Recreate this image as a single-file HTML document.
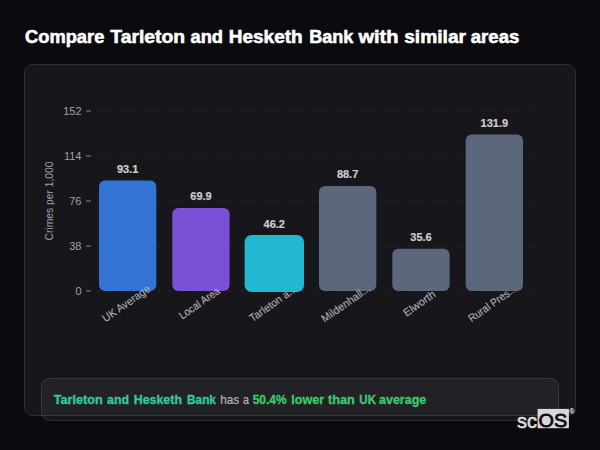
<!DOCTYPE html>
<html>
<head>
<meta charset="utf-8">
<style>
html,body{margin:0;padding:0;width:600px;height:450px;overflow:hidden;background:#0b0b0f;}
body{font-family:"Liberation Sans",sans-serif;position:relative;}
svg{position:absolute;left:0;top:0;}
</style>
</head>
<body>
<svg width="600" height="450" viewBox="0 0 600 450" font-family="Liberation Sans, sans-serif">
  <!-- title -->
  <g fill="#ffffff" stroke="#ffffff" stroke-width="0.55" font-size="18" font-weight="bold">
    <text y="42.5" x="25.0" textLength="79.32" lengthAdjust="spacingAndGlyphs">Compare</text>
    <text y="42.5" x="110.3" textLength="74.87" lengthAdjust="spacingAndGlyphs">Tarleton</text>
    <text y="42.5" x="190.5" textLength="32.5" lengthAdjust="spacingAndGlyphs">and</text>
    <text y="42.5" x="228.7" textLength="74.03" lengthAdjust="spacingAndGlyphs">Hesketh</text>
    <text y="42.5" x="309.2" textLength="44.22" lengthAdjust="spacingAndGlyphs">Bank</text>
    <text y="42.5" x="358.41" textLength="40.08" lengthAdjust="spacingAndGlyphs">with</text>
    <text y="42.5" x="404.2" textLength="61.84" lengthAdjust="spacingAndGlyphs">similar</text>
    <text y="42.5" x="470.8" textLength="48.55" lengthAdjust="spacingAndGlyphs">areas</text>
  </g>

  <!-- card -->
  <rect x="24.5" y="64.5" width="551" height="351" rx="8" ry="8" fill="#17171b" stroke="#2e2e33" stroke-width="1"/>

  <!-- grid lines -->
  <g stroke="#25252b" stroke-width="1" stroke-dasharray="4 8">
    <line x1="96" y1="111" x2="531.5" y2="111"/>
    <line x1="96" y1="156" x2="531.5" y2="156"/>
    <line x1="96" y1="201" x2="531.5" y2="201"/>
    <line x1="96" y1="246" x2="531.5" y2="246"/>
    <line x1="96" y1="291" x2="531.5" y2="291"/>
  </g>
  <!-- tick marks -->
  <g stroke="#85858c" stroke-width="1">
    <line x1="86" y1="111" x2="91" y2="111"/>
    <line x1="86" y1="156" x2="91" y2="156"/>
    <line x1="86" y1="201" x2="91" y2="201"/>
    <line x1="86" y1="246" x2="91" y2="246"/>
    <line x1="86" y1="291" x2="91" y2="291"/>
  </g>
  <!-- tick labels -->
  <g fill="#a1a1a8" font-size="11" text-anchor="end">
    <text x="81.5" y="115">152</text>
    <text x="81.5" y="160">114</text>
    <text x="81.5" y="205">76</text>
    <text x="81.5" y="250">38</text>
    <text x="81.5" y="295">0</text>
  </g>
  <!-- y axis title -->
  <text transform="translate(52.5,201) rotate(-90)" fill="#a1a1a8" font-size="11" text-anchor="middle" textLength="79" lengthAdjust="spacingAndGlyphs">Crimes per 1,000</text>

  <!-- bars -->
  <rect x="99" y="180.5" width="57.3" height="110.5" rx="6" fill="#3373d4"/>
  <rect x="172.3" y="208" width="57.3" height="83" rx="6" fill="#7a50d6"/>
  <rect x="244.6" y="235" width="59.4" height="57" rx="7" fill="#22b8d0"/>
  <rect x="319" y="186" width="57.3" height="105" rx="6" fill="#5b687b"/>
  <rect x="392.3" y="248.8" width="57.3" height="42.2" rx="6" fill="#5b687b"/>
  <rect x="465.7" y="134.5" width="57.3" height="156.5" rx="6" fill="#5b687b"/>

  <!-- value labels -->
  <g fill="#cdcdd2" stroke="#cdcdd2" stroke-width="0.2" font-size="11" font-weight="bold" text-anchor="middle">
    <text x="127.6" y="172.7">93.1</text>
    <text x="201" y="200.2">69.9</text>
    <text x="274.3" y="227.7">46.2</text>
    <text x="347.6" y="178.2">88.7</text>
    <text x="421" y="240.7">35.6</text>
    <text x="494.3" y="126.7">131.9</text>
  </g>

  <!-- x labels -->
  <g fill="#aeaeb4" stroke="#aeaeb4" stroke-width="0.12" font-size="11" text-anchor="middle">
    <text transform="translate(128.3,306.5) rotate(-35)" textLength="55.9" lengthAdjust="spacingAndGlyphs">UK Average</text>
    <text transform="translate(201.5,306.3) rotate(-35)" textLength="46.9" lengthAdjust="spacingAndGlyphs">Local Area</text>
    <text transform="translate(275,306.5) rotate(-35)" textLength="54.9" lengthAdjust="spacingAndGlyphs">Tarleton a...</text>
    <text transform="translate(347.8,306.5) rotate(-35)" textLength="56.8" lengthAdjust="spacingAndGlyphs">Mildenhall...</text>
    <text transform="translate(421.5,306.5) rotate(-35)" textLength="36.7" lengthAdjust="spacingAndGlyphs">Elworth</text>
    <text transform="translate(494.5,306.5) rotate(-35)" textLength="56" lengthAdjust="spacingAndGlyphs">Rural Pres...</text>
  </g>

  <!-- insight box -->
  <rect x="41.5" y="378.5" width="517" height="42" rx="8" fill="rgba(255,255,255,0.05)" stroke="rgba(255,255,255,0.12)" stroke-width="1"/>
  <g font-size="12" transform="translate(0,403.75)">
    <text y="0" x="53.75" fill="#2fcaa2" stroke="#2fcaa2" stroke-width="0.3" font-weight="bold" textLength="49.0" lengthAdjust="spacingAndGlyphs">Tarleton</text>
    <text y="0" x="107.0" fill="#2fcaa2" stroke="#2fcaa2" stroke-width="0.3" font-weight="bold" textLength="22.03" lengthAdjust="spacingAndGlyphs">and</text>
    <text y="0" x="133.7" fill="#2fcaa2" stroke="#2fcaa2" stroke-width="0.3" font-weight="bold" textLength="48.29" lengthAdjust="spacingAndGlyphs">Hesketh</text>
    <text y="0" x="187.0" fill="#2fcaa2" stroke="#2fcaa2" stroke-width="0.3" font-weight="bold" textLength="28.94" lengthAdjust="spacingAndGlyphs">Bank</text>
    <text y="0" x="220.3" fill="#b4b4bb" stroke="#b4b4bb" stroke-width="0.2" font-size="12.6" textLength="18.95" lengthAdjust="spacingAndGlyphs">has</text>
    <text y="0" x="243.0" fill="#b4b4bb" stroke="#b4b4bb" stroke-width="0.2" font-size="12.6" textLength="5.98" lengthAdjust="spacingAndGlyphs">a</text>
    <text y="0" x="252.7" fill="#3acb6a" stroke="#3acb6a" stroke-width="0.3" font-weight="bold" textLength="34.02" lengthAdjust="spacingAndGlyphs">50.4%</text>
    <text y="0" x="291.3" fill="#3acb6a" stroke="#3acb6a" stroke-width="0.3" font-weight="bold" textLength="32.74" lengthAdjust="spacingAndGlyphs">lower</text>
    <text y="0" x="328.0" fill="#3acb6a" stroke="#3acb6a" stroke-width="0.3" font-weight="bold" textLength="26.73" lengthAdjust="spacingAndGlyphs">than</text>
    <text y="0" x="359.3" fill="#3acb6a" stroke="#3acb6a" stroke-width="0.3" font-weight="bold" textLength="16.73" lengthAdjust="spacingAndGlyphs">UK</text>
    <text y="0" x="379.0" fill="#3acb6a" stroke="#3acb6a" stroke-width="0.3" font-weight="bold" textLength="47.27" lengthAdjust="spacingAndGlyphs">average</text>
  </g>

  <!-- scOS logo -->
  <text x="517" y="427.7" fill="#dcdcde" stroke="#dcdcde" stroke-width="0.6" font-size="20">sc</text>
  <rect x="537.6" y="408.9" width="31.3" height="19.3" fill="#d8d8dc"/>
  <text x="538.6" y="426.9" fill="#0c0c0e" stroke="#0c0c0e" stroke-width="0.8" font-size="19" textLength="28.6" lengthAdjust="spacingAndGlyphs">OS</text>
  <text x="569.3" y="413.8" fill="#dcdce4" stroke="#dcdce4" stroke-width="0.15" font-size="7.2">&#174;</text>
</svg>
</body>
</html>
